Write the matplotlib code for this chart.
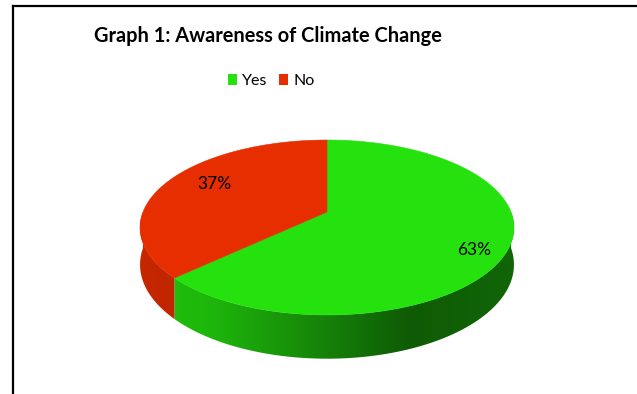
import matplotlib
matplotlib.use('Agg')
import matplotlib.pyplot as plt
import numpy as np
from matplotlib.patches import Polygon, Patch

labels = ['Yes', 'No']
shares = [63, 37]
top_colors = ['#25E20E', '#E62E00']
title = 'Graph 1: Awareness of Climate Change'

plt.rcParams['font.family'] = ['Lato', 'DejaVu Sans']

fig = plt.figure(figsize=(6.37, 3.94), dpi=100)
ax = fig.add_axes([0, 0, 1, 1])
ax.set_xlim(0, 637)
ax.set_ylim(394, 0)
ax.axis('off')

# perspective settings for the 3D pie (pixel space)
cx, cy = 327, 212
a, b, k = 184, -47.2, 0.177
depth = 36


def proj(u, v, drop=0.0):
    d = 1 + k * v
    return cx + a * u / d, (cy + b * v + drop) / d


def shade(x):
    # horizontal lighting like excel: light on the left, dark on the right
    t = np.clip((x - 140) / (514 - 140), 0, 1)
    return np.interp(t, [0, 0.2, 0.72, 1.0], [0.86, 0.8, 0.4, 0.45])


total = sum(shares)
start = 90.0
wedges = []
for s in shares:
    end = start - s / total * 360
    wedges.append((start, end))
    start = end

# sides first: gradient image clipped to the visible front band
xs = np.linspace(130, 525, 400)
for (t1, t2), col in zip(wedges, top_colors):
    th = np.radians(np.linspace(t1, t2, 600))
    th = th[np.sin(th) <= 0]
    if len(th) < 2:
        continue
    top = [proj(np.cos(t), np.sin(t)) for t in th]
    bot = [proj(np.cos(t), np.sin(t), depth) for t in th[::-1]]
    poly = Polygon(top + bot, closed=True, facecolor='none', edgecolor='none')
    ax.add_patch(poly)
    rgb = np.array(matplotlib.colors.to_rgb(col))
    grad = np.clip(shade(xs)[:, None] * rgb[None, :], 0, 1)
    img = np.repeat(grad[None, :, :], 2, axis=0)
    im = ax.imshow(img, extent=(130, 525, 370, 200), aspect='auto',
                   interpolation='bilinear', zorder=1)
    im.set_clip_path(poly)

# top faces
for (t1, t2), col in zip(wedges, top_colors):
    th = np.radians(np.linspace(t1, t2, 300))
    pts = [proj(0, 0)] + [proj(np.cos(t), np.sin(t)) for t in th]
    ax.add_patch(Polygon(pts, closed=True, facecolor=col, edgecolor=col,
                         lw=0.4, zorder=2))

# data labels
label_r = [0.82, 0.7]
label_drop = [8, -6]
for (t1, t2), s, r, dr in zip(wedges, shares, label_r, label_drop):
    m = np.radians(0.5 * (t1 + t2))
    x, y = proj(r * np.cos(m), r * np.sin(m), dr)
    ax.text(x, y, f'{s}%', ha='center', va='center', fontsize=12.5,
            color='black', zorder=3)

ax.text(267.5, 36, title, ha='center', va='center', fontsize=14.4,
        fontweight='bold', color='black')

handles = [Patch(facecolor=c, edgecolor='none') for c in top_colors]
ax.legend(handles, labels, loc='center', bbox_to_anchor=(271 / 637, 1 - 81 / 394),
          ncol=2, frameon=False, fontsize=11.5, handlelength=0.6, handleheight=0.7,
          handletextpad=0.3, columnspacing=0.7, borderpad=0)

# chart border (partly cut off in the source)
ax.plot([12.5, 12.5], [394, 6], color='black', lw=1.6, solid_capstyle='projecting')
ax.plot([12.5, 637], [6, 6], color='black', lw=1.6, solid_capstyle='projecting')

ax.set_xlim(0, 637)
ax.set_ylim(394, 0)
fig.savefig('out.png', dpi=100)
